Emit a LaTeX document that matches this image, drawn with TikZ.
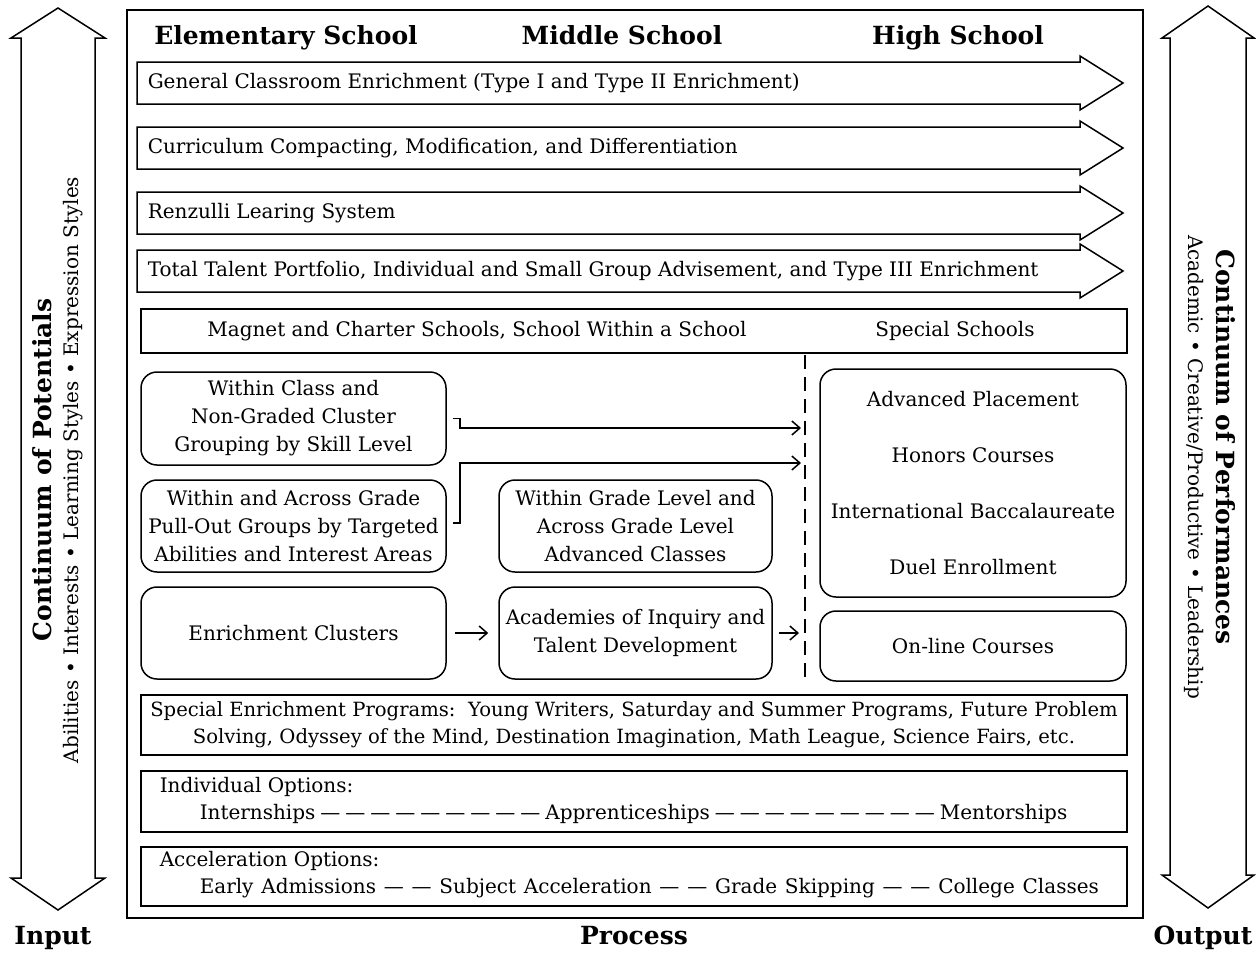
\documentclass[tikz,border=0pt]{standalone}
\usepackage{fontspec}
\setmainfont{DejaVu Serif}
\usetikzlibrary{positioning,arrows}
\usetikzlibrary{shapes}
\usetikzlibrary{arrows.meta}

\begin{document}
\begin{tikzpicture}[x=0.5pt,y=-0.5pt,line width=0.75pt]
  \tikzstyle{every node}=[font=\fontsize{10}{14}\selectfont, inner sep=0pt]
  \tikzstyle{head}=[font=\fontsize{12.5}{15}\selectfont\bfseries, anchor=base]
  \tikzstyle{rbox}=[draw, rounded corners=8pt, align=center]
  \tikzstyle{sbox}=[draw, minimum width=493pt]
  \tikzstyle{sidetitle}=[font=\fontsize{12.5}{15}\selectfont\bfseries]
  \tikzstyle{sidetext}=[font=\fontsize{10}{12}\selectfont]
  \tikzstyle{link}=[shorten >=1pt, -{Straight Barb[length=4pt,width=7pt]}]
  \useasboundingbox (0,0) rectangle (1256,953);
  \draw (127,10) rectangle (1143,918);

  \draw (58,8) -- (105,38) -- (95,38) -- (95,878) -- (105,878) -- (58,910) -- (11,878) -- (21,878) -- (21,38) -- (11,38) -- cycle;
  \draw (1208,6) -- (1254,38) -- (1246,38) -- (1246,875) -- (1254,875) -- (1208,908) -- (1162,875) -- (1170,875) -- (1170,38) -- (1162,38) -- cycle;
  \draw (42,470) node (potentials) [sidetitle, rotate=90] {Continuum of Potentials};
  \draw (73,470) node (abilities) [sidetext, rotate=90] {Abilities • Interests • Learning Styles • Expression Styles};
  \draw (1226,447) node (performances) [sidetitle, rotate=-90] {Continuum of Performances};
  \draw (1194,467) node (academic) [sidetext, rotate=-90] {Academic • Creative/Productive • Leadership};

  \draw (286,44) node (elementary) [head] {Elementary School};
  \draw (622,44) node (middle) [head] {Middle School};
  \draw (958,44) node (high) [head] {High School};

  \foreach \yc/\nm/\txt in {83/general/{General Classroom Enrichment (Type I and Type II Enrichment)},
      148/compacting/{Curriculum Compacting, Modification, and Differentiation},
      213/renzulli/{Renzulli Learing System},
      271/portfolio/{Total Talent Portfolio, Individual and Small Group Advisement, and Type III Enrichment}}
  {
    \draw (137,\yc-21) -- (1080,\yc-21) -- (1080,\yc-27) -- (1123,\yc) -- (1080,\yc+27) -- (1080,\yc+21) -- (137,\yc+21) -- cycle;
    \draw (147,\yc) node (\nm) [anchor=west] {\txt};
  }

  \draw (634,331) node (magnet) [sbox, minimum height=22pt] {};
  \draw (477,331) node (magnet_txt) {Magnet and Charter Schools, School Within a School};
  \draw (955,331) node (special_schools) {Special Schools};

  \draw (293.5,418.5) node (within_class) [rbox, minimum width=152.5pt, minimum height=46.5pt] {Within Class and\\Non-Graded Cluster\\Grouping by Skill Level};
  \draw (293.5,526) node (pull_out) [rbox, minimum width=152.5pt, minimum height=46pt] {Within and Across Grade\\Pull-Out Groups by Targeted\\Abilities and Interest Areas};
  \draw (635.5,526) node (grade_level) [rbox, minimum width=136.5pt, minimum height=46pt] {Within Grade Level and\\Across Grade Level\\Advanced Classes};
  \draw (293.5,633) node (clusters) [rbox, minimum width=152.5pt, minimum height=46pt] {Enrichment Clusters};
  \draw (635.5,633) node (academies) [rbox, minimum width=136.5pt, minimum height=46pt] {Academies of Inquiry and\\Talent Development};
  \draw (973,483) node (advanced) [rbox, minimum width=153pt, minimum height=114pt, font=\fontsize{10}{28}\selectfont] {Advanced Placement\\Honors Courses\\International Baccalaureate\\Duel Enrollment};
  \draw (973,646) node (online) [rbox, minimum width=153pt, minimum height=35pt] {On-line Courses};

  \coordinate (dash_top) at (805,355);
  \coordinate (dash_bottom) at (805,682);
  \draw [dash pattern=on 7pt off 4pt] (dash_top) -- (dash_bottom);
  \coordinate (to_high_1) at (803,428);
  \coordinate (to_high_2) at (803,463);
  \coordinate (to_high_3) at (801,633);
  \draw [link] ([xshift=3pt]within_class.east) -- ++(7,0) |- (to_high_1);
  \draw [link] ([xshift=3pt,yshift=1.5pt]pull_out.east) -- ++(7,0) |- (to_high_2);
  \draw [link] ([xshift=4pt]clusters.east) -- ([xshift=-4pt]academies.west);
  \draw [link] ([xshift=3pt]academies.east) -- (to_high_3);

  \draw (634,725) node (programs) [sbox, minimum height=30pt, align=center, font=\fontsize{9.8}{13.5}\selectfont] {Special Enrichment Programs:\ \ Young Writers, Saturday and Summer Programs, Future Problem\\Solving, Odyssey of the Mind, Destination Imagination, Math League, Science Fairs, etc.};
  \draw (634,801.5) node (individual) [sbox, minimum height=30.5pt] {};
  \draw (159,800) node (individual_txt) [anchor=west, align=left, font=\fontsize{10}{13.5}\selectfont] {Individual Options:\\\hspace*{20pt}{\spaceskip=2.5pt\relax Internships — — — — — — — — — Apprenticeships — — — — — — — — — Mentorships}};
  \draw (634,876.5) node (acceleration) [sbox, minimum height=29.5pt] {};
  \draw (159,875) node (acceleration_txt) [anchor=west, align=left, font=\fontsize{10}{13.5}\selectfont] {Acceleration Options:\\\hspace*{20pt}{\spaceskip=3.9pt\relax Early Admissions — — Subject Acceleration — — Grade Skipping — — College Classes}};

  \draw (53,944) node (input) [head] {Input};
  \draw (634,944) node (process) [head] {Process};
  \draw (1203,944) node (output) [head] {Output};
\end{tikzpicture}
\end{document}
